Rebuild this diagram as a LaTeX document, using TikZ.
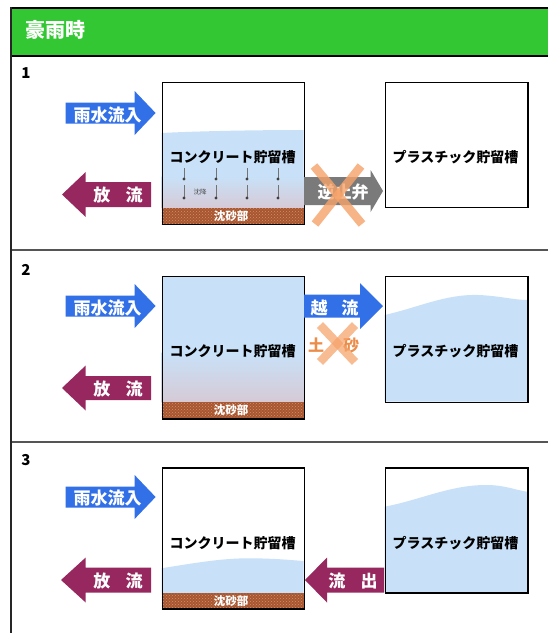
\documentclass[tikz,border=0pt]{standalone}
\usepackage{fontspec}
\newfontfamily\jp{Noto Sans CJK JP}
\usetikzlibrary{patterns}
\definecolor{hdrgreen}{RGB}{51,200,51}
\definecolor{arrblue}{RGB}{50,112,232}
\definecolor{arrpurple}{RGB}{150,40,95}
\definecolor{arrgray}{RGB}{122,122,122}
\definecolor{xorange}{RGB}{246,163,105}
\definecolor{txtorange}{RGB}{236,140,72}
\definecolor{water}{RGB}{200,225,248}
\definecolor{silt}{RGB}{214,202,214}
\definecolor{sand}{RGB}{168,86,50}
\definecolor{sanddot}{RGB}{210,145,105}
\definecolor{framegray}{RGB}{85,85,85}
\newcommand{\arrR}[7]{\fill[#7] (#1,#4-#5) -- (#2,#4-#5) -- (#2,#4-#6) -- (#3,#4) -- (#2,#4+#6) -- (#2,#4+#5) -- (#1,#4+#5) -- cycle;}
\newcommand{\arrL}[7]{\fill[#7] (#1,#4) -- (#2,#4-#6) -- (#2,#4-#5) -- (#3,#4-#5) -- (#3,#4+#5) -- (#2,#4+#5) -- (#2,#4+#6) -- cycle;}
\tikzset{
  tank/.style={draw=black, line width=1.4pt, inner sep=0pt, anchor=north west},
  tanklabel/.style={font={\jp\bfseries\fontsize{14}{14}\selectfont}, inner sep=0pt},
  arrlabel/.style={text=white, font={\jp\bfseries\fontsize{17}{17}\selectfont}, inner sep=0pt},
  sandlabel/.style={text=white, font={\jp\bfseries\fontsize{11.5}{11.5}\selectfont}, inner sep=0pt},
  numlabel/.style={font={\jp\bfseries\fontsize{15}{15}\selectfont}, inner sep=0pt},
  crossline/.style={xorange, opacity=0.8, line width=8.5pt},
  siltlabel/.style={text=txtorange, font={\jp\bfseries\fontsize{16}{16}\selectfont}, inner sep=0pt},
  sandband/.style={fill=sand},
  sanddots/.style={pattern=crosshatch dots, pattern color=sanddot},
  settle/.style={black!55, line width=0.6pt}
}
\begin{document}
\begin{tikzpicture}[x=1pt,y=-1pt]
\useasboundingbox (0,0) rectangle (548,633);
\fill[white] (0,0) rectangle (548,633);
% header
\fill[hdrgreen] (11,8) rectangle (548,56);
\draw[black, line width=1.2pt] (11,8) -- (548,8);
\draw[black, line width=1.6pt] (11,56) -- (548,56);
\node[text=white, font={\jp\bfseries\fontsize{20}{20}\selectfont}, inner sep=0pt] (hdr) at (56,30) {豪雨時};
% frame
\draw[framegray, line width=2pt] (11,250) -- (548,250);
\draw[framegray, line width=2pt] (11,442) -- (548,442);
\draw[black!85, line width=2pt] (11,7) -- (11,633);
\node[numlabel] (n1) at (26,73) {1};
\node[numlabel] (n2) at (26,270) {2};
\node[numlabel] (n3) at (26,460) {3};

% ===== Panel 1 =====
\fill[water] (161.5,133) .. controls (200,131) and (260,130) .. (303.5,130) -- (303.5,208) -- (161.5,208) -- cycle;
\shade[top color=water, bottom color=silt] (161.5,176) rectangle (303.5,208);
\fill[sandband] (161.5,208) rectangle (303.5,224);
\fill[sanddots] (161.5,208) rectangle (303.5,224);
\foreach \xx in {184,216,247,278} {
  \draw[settle] (\xx,168) -- (\xx,179);
  \fill[black!75] (\xx,179) circle (1.6);
  \draw[settle] (\xx,185) -- (\xx,198);
  \fill[black!75] (\xx,198) circle (1.6);
}
\node[font={\jp\fontsize{6.5}{6.5}\selectfont}, text=black!70, inner sep=0pt] (settletxt) at (200,192) {沈降};
\node[tank, minimum width=142pt, minimum height=142pt] (c1) at (161.5,82) {};
\node[tank, minimum width=142.5pt, minimum height=125pt] (p1) at (384.6,82) {};
\node[tanklabel] (c1l) at (232.5,157) {コンクリート貯留槽};
\node[tanklabel] (p1l) at (455.5,157) {プラスチック貯留槽};
\node[sandlabel] (s1) at (231,216) {沈砂部};
\arrR{65.7}{134.6}{155.6}{113}{10.5}{22}{arrblue}
\node[arrlabel] (in1) at (107.7,115.5) {雨水流入};
\arrL{62}{85.7}{151}{194.5}{12.5}{22.5}{arrpurple}
\node[arrlabel] (out1) at (118,195) {放\kern0.9em 流};
\arrR{304}{370.6}{383}{191}{14}{21}{arrgray}
\node[arrlabel] (valve) at (343,192) {逆止弁};
\draw[crossline] (314,166) -- (362,224);
\draw[crossline] (361,166) -- (315,224);

% ===== Panel 2 =====
\fill[water] (161.5,276) rectangle (303.5,402);
\shade[top color=water, bottom color=silt] (161.5,352) rectangle (303.5,402);
\fill[sandband] (161.5,402) rectangle (303.5,418.3);
\fill[sanddots] (161.5,402) rectangle (303.5,418.3);
\fill[water] (384.6,315) .. controls (420,307) and (445,294) .. (479,295) .. controls (500,296) and (515,300) .. (527,300) -- (527,401.7) -- (384.6,401.7) -- cycle;
\node[tank, minimum width=142pt, minimum height=142.5pt] (c2) at (161.5,275.8) {};
\node[tank, minimum width=142.5pt, minimum height=126pt] (p2) at (384.6,275.8) {};
\node[tanklabel] (c2l) at (232.5,351) {コンクリート貯留槽};
\node[tanklabel] (p2l) at (455.5,351) {プラスチック貯留槽};
\node[sandlabel] (s2) at (231,410) {沈砂部};
\arrR{65.7}{134.6}{155.6}{306}{10.5}{22}{arrblue}
\node[arrlabel] (in2) at (107.7,308) {雨水流入};
\arrL{62}{85.7}{151}{388}{12}{22.5}{arrpurple}
\node[arrlabel] (out2) at (118,389) {放\kern0.9em 流};
\arrR{304}{360}{383}{306}{11.5}{23}{arrblue}
\node[arrlabel] (over) at (334.5,308) {越\kern0.8em 流};
\node[siltlabel] (soil) at (316,345) {土};
\node[siltlabel] (sand) at (351,345) {砂};
\draw[crossline, opacity=0.72] (320,325) -- (355,362);
\draw[crossline, opacity=0.72] (355,325) -- (320,362);

% ===== Panel 3 =====
\fill[water] (161.5,568.3) .. controls (200,562) and (225,558) .. (252,558.3) .. controls (275,558.5) and (290,560) .. (303.5,561) -- (303.5,593.3) -- (161.5,593.3) -- cycle;
\fill[sandband] (161.5,593.3) rectangle (303.5,608.3);
\fill[sanddots] (161.5,593.3) rectangle (303.5,608.3);
\fill[water] (384.6,506.7) .. controls (420,500) and (450,485) .. (486,485) .. controls (505,485) and (515,490) .. (527,491.7) -- (527,592.3) -- (384.6,592.3) -- cycle;
\node[tank, minimum width=142pt, minimum height=141pt] (c3) at (161.5,467.3) {};
\node[tank, minimum width=142.5pt, minimum height=125pt] (p3) at (384.6,467.3) {};
\node[tanklabel] (c3l) at (232.5,543) {コンクリート貯留槽};
\node[tanklabel] (p3l) at (455.5,543) {プラスチック貯留槽};
\node[sandlabel] (s3) at (231,601) {沈砂部};
\arrR{65.7}{134.6}{155.6}{497}{10.5}{22}{arrblue}
\node[arrlabel] (in3) at (107.7,498) {雨水流入};
\arrL{61}{85.7}{151}{580}{12.5}{22.5}{arrpurple}
\node[arrlabel] (out3) at (118,581) {放\kern0.9em 流};
\arrL{305}{327}{384}{580}{12.5}{22.5}{arrpurple}
\node[arrlabel] (drain) at (353,581) {流\kern0.9em 出};
\end{tikzpicture}
\end{document}
